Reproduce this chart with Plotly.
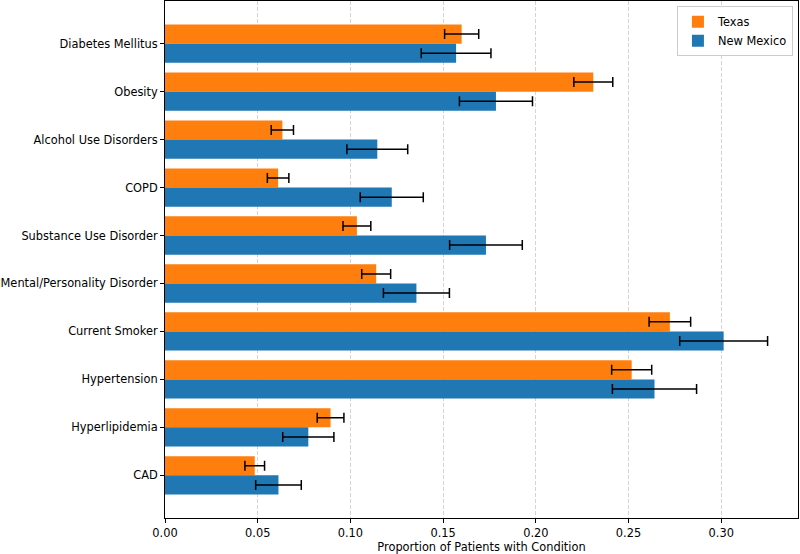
import plotly.graph_objects as go

categories = ["Diabetes Mellitus", "Obesity", "Alcohol Use Disorders", "COPD",
              "Substance Use Disorder", "Mental/Personality Disorder",
              "Current Smoker", "Hypertension", "Hyperlipidemia", "CAD"]

texas = [0.160, 0.231, 0.0633, 0.0610, 0.1035, 0.1139, 0.2723, 0.2517, 0.0893, 0.0484]
texas_err = [0.0092, 0.0105, 0.0060, 0.0058, 0.0075, 0.0078, 0.0112, 0.0108, 0.0072, 0.0053]

new_mexico = [0.157, 0.1785, 0.1145, 0.1223, 0.1731, 0.1356, 0.3013, 0.2640, 0.0773, 0.0612]
new_mexico_err = [0.0188, 0.0197, 0.0164, 0.0170, 0.0196, 0.0178, 0.0237, 0.0227, 0.0138, 0.0123]

x_ticks = [0.00, 0.05, 0.10, 0.15, 0.20, 0.25, 0.30]
x_tick_labels = ["0.00", "0.05", "0.10", "0.15", "0.20", "0.25", "0.30"]

FONT = "DejaVu Sans"
FS = 11.4

fig = go.Figure()
fig.add_trace(go.Bar(
    name="Texas", y=categories, x=texas, orientation="h",
    marker=dict(color="#ff7f0e", line=dict(width=0)),
    error_x=dict(type="data", array=texas_err, color="black", thickness=1.5, width=5),
))
fig.add_trace(go.Bar(
    name="New Mexico", y=categories, x=new_mexico, orientation="h",
    marker=dict(color="#1f77b4", line=dict(width=0)),
    error_x=dict(type="data", array=new_mexico_err, color="black", thickness=1.5, width=5),
))

fig.update_layout(
    width=800, height=554,
    margin=dict(l=165, r=2, t=1, b=36),
    barmode="group", bargap=0.2, bargroupgap=0.0,
    plot_bgcolor="white", paper_bgcolor="white",
    font=dict(family=FONT, size=FS, color="black"),
    legend=dict(x=0.992, y=0.99, xanchor="right", yanchor="top",
                bgcolor="white", bordercolor="#cccccc", borderwidth=1,
                font=dict(size=FS), tracegroupgap=0),
    xaxis=dict(
        range=[0, 0.3414], tickvals=x_ticks, ticktext=x_tick_labels,
        showgrid=True, gridcolor="#d4d4d4", griddash="4px,2px", gridwidth=1,
        zeroline=False, showline=True, linecolor="black", linewidth=1, mirror=True,
        ticks="outside", ticklen=4, tickcolor="black",
        title=dict(text="Proportion of Patients with Condition", standoff=1,
                   font=dict(size=FS)),
    ),
    yaxis=dict(
        type="category", categoryorder="array", categoryarray=categories,
        range=[9.89, -0.89],
        showgrid=False, zeroline=False, showline=True, linecolor="black",
        linewidth=1, mirror=True, ticks="outside", ticklen=4, tickcolor="black",
    ),
)

fig.write_html("out.html", config={"displayModeBar": False},
               post_script="document.body.style.margin='0';document.body.style.padding='0';")
